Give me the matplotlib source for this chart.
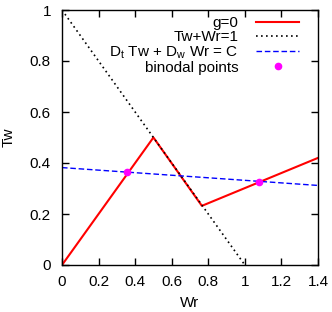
import matplotlib
matplotlib.use("Agg")
import matplotlib.pyplot as plt

plt.rcParams['font.family'] = ['Liberation Sans', 'DejaVu Sans']
plt.rcParams['mathtext.fontset'] = 'custom'
plt.rcParams['mathtext.rm'] = 'Liberation Sans'

g0_x = [0.0, 0.5, 0.765, 1.4]
g0_y = [0.0, 0.5, 0.232, 0.42]
tie_x = [0.0, 1.0]
tie_y = [1.0, 0.0]
lin_x = [0.0, 1.4]
lin_y = [0.382, 0.312]
bin_x = [0.355, 1.078]
bin_y = [0.363, 0.327]

xticks = [0, 0.2, 0.4, 0.6, 0.8, 1, 1.2, 1.4]
xticklabels = ['0', '0.2', '0.4', '0.6', '0.8', '1', '1.2', '1.4']
yticks = [0, 0.2, 0.4, 0.6, 0.8, 1]
yticklabels = ['0', '0.2', '0.4', '0.6', '0.8', '1']

fig = plt.figure(figsize=(3.32, 3.12), dpi=100)
ax = fig.add_axes([62/332, 1 - 265/312, 256/332, 255/312])

ax.plot(g0_x, g0_y, color='#ff0000', lw=1.5, label='g=0')
ax.plot(tie_x, tie_y, color='black', lw=1.2, linestyle=(0, (1, 2)), label='Tw+Wr=1')
ax.plot(lin_x, lin_y, color='#0000ff', lw=1.0, linestyle=(0, (4, 2)),
        label=r'D$_\mathrm{t}$ Tw + D$_\mathrm{w}$ Wr = C')
ax.plot(bin_x, bin_y, 'o', color='#ff00ff', ms=4.5, mec='#ff00ff', label='binodal points', zorder=5)

ax.set_xlim(0, 1.4)
ax.set_ylim(0, 1)
ax.set_xticks(xticks)
ax.set_xticklabels(xticklabels)
ax.set_yticks(yticks)
ax.set_yticklabels(yticklabels)
ax.tick_params(direction='in', top=True, right=True, length=5, width=1, labelsize=11)
ax.tick_params(axis='x', pad=7)
ax.tick_params(axis='y', pad=8)
for s in ax.spines.values():
    s.set_linewidth(1.0)
ax.set_xlabel('Wr', fontsize=11, labelpad=5)
ax.set_ylabel('Tw', fontsize=11, labelpad=10)

leg = ax.legend(loc='upper right', frameon=False, markerfirst=False, fontsize=11,
                handlelength=2.8, handletextpad=1.15, labelspacing=0.0,
                borderaxespad=0.0, borderpad=0.0,
                bbox_to_anchor=(1 - 19/256, 1 - 6/255))
for t in leg.get_texts():
    t.set_ha('right')

fig.savefig('out.png', dpi=100)
